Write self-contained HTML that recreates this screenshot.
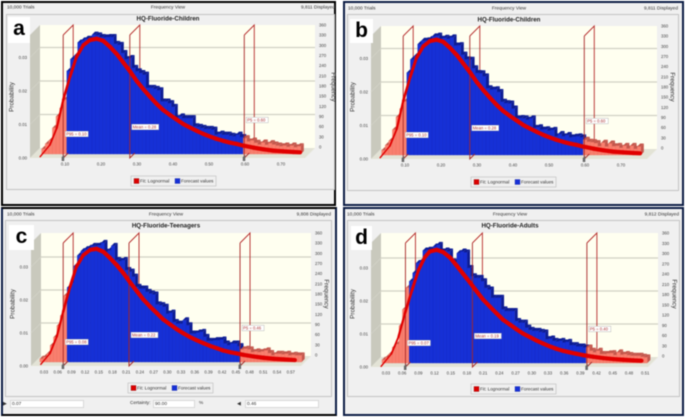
<!DOCTYPE html>
<html lang="en">
<head>
<meta charset="utf-8">
<title>HQ-Fluoride frequency views</title>
<style>
html,body{margin:0;padding:0;background:#fff}
#page{position:relative;width:685px;height:417px;overflow:hidden;background:#fff;filter:blur(.4px);font-family:"Liberation Sans",sans-serif}
.win{position:absolute;background:#f0f0f0;box-sizing:border-box}
.inner{position:absolute;border:1px solid #c4c4c4;box-sizing:border-box}
.letter{position:absolute;background:#fff;color:#000;font-weight:bold;font-size:21px;line-height:24px;text-align:center}
.inp{position:absolute;background:#fff;border:1px solid #d8d8d8;box-sizing:border-box;font-size:4.8px;line-height:7px;color:#333;padding-left:1px}
.lbl{position:absolute;font-size:4.8px;color:#333;white-space:nowrap}
svg{position:absolute;left:0;top:0}
</style>
</head>
<body>
<div id="page">
  <div class="win" style="left:1px;top:1px;width:335px;height:205px;border:2px solid #000"><div class="inner" style="left:3px;top:11px;width:329px;height:176px"></div></div>
  <div class="win" style="left:343px;top:1px;width:341px;height:205px;border:2px solid #0c1c44"><div class="inner" style="left:2px;top:11px;width:332px;height:177px"></div></div>
  <div class="win" style="left:1px;top:207px;width:336px;height:209px;border:2px solid #0c1c44;border-bottom-color:#000;border-top-color:#000"><div class="inner" style="left:2px;top:11px;width:327px;height:177px"></div></div>
  <div class="win" style="left:343px;top:207px;width:341px;height:209px;border:2px solid #0c1c44"><div class="inner" style="left:2px;top:11px;width:333px;height:177px"></div></div>

  <svg id="charts" width="685" height="417" viewBox="0 0 685 417"></svg>

  <div class="letter" style="left:8px;top:17px;width:22px;height:26px">a</div>
  <div class="letter" style="left:350px;top:19px;width:23px;height:24px">b</div>
  <div class="letter" style="left:9px;top:225px;width:25px;height:25px">c</div>
  <div class="letter" style="left:351px;top:226px;width:21px;height:24px">d</div>

  <div class="lbl" style="left:3px;top:402px">&#9654;</div>
  <div class="inp" style="left:10px;top:400px;width:74px;height:8px">0.07</div>
  <div class="lbl" style="left:130px;top:401px">Certainty:</div>
  <div class="inp" style="left:153px;top:400px;width:42px;height:8px">90.00</div>
  <div class="lbl" style="left:199px;top:401px">%</div>
  <div class="lbl" style="left:237px;top:402px">&#9664;</div>
  <div class="inp" style="left:245px;top:400px;width:74px;height:8px">0.46</div>
</div>

<script>
/* ---------- data ---------- */
const aFrequency = [15,30,40,77,111,135,160,245,280,290,329,335,340,340,352,350,345,344,345,345,325,322,298,280,283,254,244,239,234,195,195,192,188,155,155,150,139,106,111,106,106,106,82,80,77,74,74,72,57,60,57,57,54,52,57,50,47,37,40,33,28,34,27,32,28,25,23,25,21,25,20,23];
const bFrequency = [14,29,42,75,112,136,158,243,282,292,327,337,338,342,350,352,343,346,343,347,323,324,296,282,281,256,242,241,232,197,193,194,186,157,153,152,137,108,109,108,104,108,80,82,75,76,72,74,55,62,55,59,52,54,55,52,45,39,38,35,26,36,25,34,26,27,21,27,19,27,18,25];
const cFrequency = [10,15,25,50,75,110,140,200,225,240,290,322,335,341,345,351,351,353,360,333,338,351,308,305,308,278,273,258,227,222,222,212,207,204,174,172,167,146,149,121,116,116,126,111,86,86,89,91,76,64,64,66,66,68,56,51,56,56,48,38,40,38,30,32,30,32,35,27,20,25,25,23,25,20,22,20,20];
const dFrequency = [10,17,27,47,57,112,162,227,247,272,302,307,340,342,342,352,357,337,340,337,307,304,332,337,334,287,262,257,257,247,227,222,197,197,197,162,157,157,157,127,122,122,107,100,97,97,94,92,72,74,67,65,67,62,64,54,54,50,50,47,47,37,32,37,27,27,29,30,24,32,25,27,24,22,22,22,19,17];

const abCurveX = [.031,.058,.077,.095,.114,.132,.151,.169,.188,.206,.225,.244,.262,.281,.299,.318,.336,.355,.373,.392,.410,.429,.447,.466,.484,.503,.521,.540,.558,.577,.595,.623,.651,.679,.706,.734,.753];
const abCurveP = [.0004,.0039,.0089,.0173,.0243,.0302,.0337,.0352,.0356,.0350,.0332,.0310,.0285,.0258,.0230,.0205,.0183,.0161,.0143,.0128,.0115,.0101,.0091,.0081,.0072,.0064,.0057,.0051,.0046,.0042,.0037,.0031,.0026,.0022,.0020,.0018,.0017];
const cCurveX = [.023,.043,.058,.072,.087,.101,.116,.131,.145,.160,.174,.189,.204,.218,.233,.247,.262,.277,.291,.306,.320,.335,.349,.364,.379,.393,.408,.422,.437,.452,.466,.488,.510,.532,.554,.579];
const cCurveP = [.0005,.0038,.0089,.0165,.0240,.0301,.0336,.0352,.0355,.0346,.0328,.0306,.0281,.0254,.0227,.0202,.0180,.0160,.0141,.0126,.0112,.0099,.0088,.0078,.0069,.0061,.0054,.0047,.0042,.0038,.0034,.0029,.0025,.0022,.0020,.0018];
const dCurveX = [.021,.040,.053,.065,.078,.090,.102,.111,.124,.136,.149,.161,.173,.186,.198,.210,.223,.235,.247,.260,.272,.284,.297,.309,.321,.334,.346,.358,.371,.383,.395,.414,.432,.451,.469,.488,.503];
const dCurveP = [.0002,.0040,.0091,.0162,.0232,.0293,.0333,.0350,.0355,.0348,.0331,.0307,.0282,.0255,.0229,.0204,.0182,.0162,.0143,.0128,.0114,.0101,.0090,.0080,.0071,.0062,.0055,.0049,.0044,.0040,.0036,.0031,.0027,.0024,.0022,.0020,.0019];

const abTicks = [.10,.20,.30,.40,.50,.60,.70];
const cTicks = [.03,.06,.09,.12,.15,.18,.21,.24,.27,.30,.33,.36,.39,.42,.45,.48,.51,.54,.57];
const dTicks = [.03,.06,.09,.12,.15,.18,.21,.24,.27,.30,.33,.36,.39,.42,.45,.48,.51];
const probTicks = [0,.01,.02,.03];
const freqTicks = [0,30,60,90,120,150,180,210,240,270,300,330,360];

const abMarkers = [.095,.28,.598];
const cMarkers = [.072,.216,.459];
const dMarkers = [.066,.19,.402];
const abMarkerText = ['P95 = 0.10','Mean = 0.28','P5 = 0.60'];
const cMarkerText = ['P95 = 0.08','Mean = 0.22','P5 = 0.46'];
const dMarkerText = ['P95 = 0.07','Mean = 0.19','P5 = 0.40'];

/* ---------- layout of each panel ---------- */
const panels = [
 {id:'a',ox:30,fy:158,w:275,h:123,py:3350,fs:.339,t0:.10,k:360,binStart:.035,binW:.01,freq:aFrequency,cx:abCurveX,cp:abCurveP,ticks:abTicks,mk:abMarkers,mt:abMarkerText,
  trials:'10,000 Trials',view:'Frequency View',shown:'9,811 Displayed',title:'HQ-Fluoride-Children',hy:8,hl:7,hc:168,hr:335,ty:19,tc:168,px:12,pyc:97,fx:333,fyc:87,lx:131,ly:176},
 {id:'b',ox:371,fy:159,w:276,h:123,py:3350,fs:.339,t0:.10,k:360,binStart:.035,binW:.01,freq:bFrequency,cx:abCurveX,cp:abCurveP,ticks:abTicks,mk:abMarkers,mt:abMarkerText,
  trials:'10,000 Trials',view:'Frequency View',shown:'9,811 Displayed',title:'HQ-Fluoride-Children',hy:9,hl:348,hc:509,hr:678,ty:20,tc:509,px:353,pyc:97,fx:672,fyc:87,lx:471,ly:177},
 {id:'c',ox:31,fy:366,w:270,h:123,py:3300,fs:.331,t0:.03,k:457,binStart:.021,binW:.00744,freq:cFrequency,cx:cCurveX,cp:cCurveP,ticks:cTicks,mk:cMarkers,mt:cMarkerText,
  trials:'10,000 Trials',view:'Frequency View',shown:'9,808 Displayed',title:'HQ-Fluoride-Teenagers',hy:215,hl:7,hc:166,hr:331,ty:226,tc:166,px:13,pyc:304,fx:326,fyc:294,lx:128,ly:383},
 {id:'d',ox:371,fy:367,w:277,h:124,py:3300,fs:.331,t0:.03,k:540,binStart:.0226,binW:.0063,freq:dFrequency,cx:dCurveX,cp:dCurveP,ticks:dTicks,mk:dMarkers,mt:dMarkerText,
  trials:'10,000 Trials',view:'Frequency View',shown:'9,812 Displayed',title:'HQ-Fluoride-Adults',hy:215,hl:347,hc:510,hr:679,ty:226,tc:510,px:353,pyc:304,fx:674,fyc:294,lx:471,ly:384}
];
const tickOrigin = {a:65,b:405,c:44,d:386};
const NS = 'http://www.w3.org/2000/svg';
const root = document.getElementById('charts');

function mk(tag, attrs, parent){
  const el = document.createElementNS(NS, tag);
  for (const k in attrs) el.setAttribute(k, attrs[k]);
  parent.appendChild(el);
  return el;
}
function txt(str, x, y, size, anchor, fill, parent, weight){
  const el = mk('text',{x:x,y:y,'font-size':size,'text-anchor':anchor,fill:fill,'font-family':'"Liberation Sans",sans-serif','font-weight':weight||'normal','dominant-baseline':'central'},parent);
  el.textContent = str;
  return el;
}
function pts(a){return a.map(p=>p[0].toFixed(2)+','+p[1].toFixed(2)).join(' ');}

panels.forEach(function(P){
  const g = mk('g',{},root);
  
  
  const D = 10;
  const xS = v => tickOrigin[P.id] + (v - P.t0) * P.k;
  const yP = p => P.fy - p * P.py;
  const yF = (f, depth) => P.fy - depth - f * P.fs;
  const L = P.ox, R = P.ox + P.w, F = P.fy, T = P.fy - D - P.h;

  /* header */
  let t = txt(P.trials,P.hl,P.hy,4.8,'start','#333',g);
  
  
  t = txt(P.view,P.hc,P.hy,4.8,'middle','#333',g);
  
  
  t = txt(P.shown,P.hr,P.hy,4.8,'end','#333',g);
  
  
  t = txt(P.title,P.tc,P.ty,6.2,'middle','#222',g,'bold');
  
  

  /* walls */
  let w = mk('polygon',{points:pts([[L+D,T],[R+D,T],[R+D,F-D],[L+D,F-D]]),fill:'#fffff0'},g);
  
  
  w = mk('polygon',{points:pts([[L,T+D],[L+D,T],[L+D,F-D],[L,F]]),fill:'#c9c9bd'},g);
  
  
  w = mk('polygon',{points:pts([[L,F],[L+D,F-D],[R+D,F-D],[R,F]]),fill:'#e3e3d6'},g);
  
  

  /* grid + y ticks */
  probTicks.forEach(function(p){
    if (p > 0) {
      const gl = mk('polyline',{points:pts([[L,yP(p)],[L+D,yP(p)-D],[R+D,yP(p)-D]]),fill:'none',stroke:'#d0d0c4','stroke-width':1.2},g);
      
      
    }
    const tl = txt(p.toFixed(2),L-3,yP(p),4.3,'end','#444',g);
    
    
  });
  freqTicks.forEach(function(f){
    const tl = txt(String(f),R+D+4,F-D-1-f*(P.h-1)/360,4.3,'start','#444',g);
    
    
  });
  P.ticks.forEach(function(v){
    const tl = txt(v.toFixed(2),xS(v),F+6,4.3,'middle','#444',g);
    
    
  });

  /* axis titles */
  let a1 = txt('Probability',P.px,P.pyc,6.4,'middle','#333',g);
  a1.setAttribute('transform','rotate(-90 '+P.px+' '+P.pyc+')');
  
  
  let a2 = txt('Frequency',P.fx,P.fyc,6.2,'middle','#333',g);
  a2.setAttribute('transform','rotate(90 '+P.fx+' '+P.fyc+')');
  
  

  /* marker frames: back part */
  P.mk.forEach(function(m){
    const x = xS(m);
    const b = mk('polyline',{points:pts([[x,F-P.h],[x+D,T],[x+D,F-D]]),fill:'none',stroke:'#b52a2a','stroke-width':.9},g);
    
    
  });

  /* bars */
  const bw = P.binW * P.k;
  P.freq.forEach(function(f,i){
    const x = xS(P.binStart + i * P.binW);
    const mid = x + bw / 2;
    const tail = mid < xS(P.mk[0]) + 3 || mid > xS(P.mk[2]);
    const front = tail ? '#f97f6e' : '#1630d6';
    const top = tail ? '#c4574c' : '#0d1c94';
    const edge = tail ? '#e8705f' : '#1429c4';
    const y0 = F - 4, y1 = yF(f,4);
    const bar = mk('g',{},g);
    
    
    mk('polygon',{points:pts([[x,y1],[x+3,y1-3],[x+bw+3,y1-3],[x+bw,y1]]),fill:top},bar);
    mk('polygon',{points:pts([[x+bw,y1],[x+bw+3,y1-3],[x+bw+3,y0-3],[x+bw,y0]]),fill:top},bar);
    mk('rect',{x:x.toFixed(2),y:y1.toFixed(2),width:bw.toFixed(2),height:Math.max(0,y0-y1).toFixed(2),fill:front,stroke:edge,'stroke-width':.3},bar);
  });

  /* marker frames: front part */
  P.mk.forEach(function(m,i){
    const x = xS(m);
    const fr = mk('polyline',{points:pts([[x,F-P.h],[x,F],[x+5,F-5]]),fill:'none',stroke:'#a82626','stroke-width':.9},g);
    
    
    if (i !== 1) {
      const h = mk('polygon',{points:pts([[x-1.5,F-1],[x+1,F-3],[x+1,F+3],[x-1.5,F+3]]),fill:'#666'},g);
      
      
    }
  });

  /* fit curve */
  const curve = mk('g',{fill:'none',stroke:'#e00000','stroke-linecap':'round'},g);
  
  
  P.cx.forEach(function(v,i){
    if (i === 0) return;
    mk('line',{x1:xS(P.cx[i-1]).toFixed(2),y1:yP(P.cp[i-1]).toFixed(2),x2:xS(v).toFixed(2),y2:yP(P.cp[i]).toFixed(2),'stroke-width':Math.min(4.2,1+i*.4).toFixed(2)},curve);
  });

  /* marker labels */
  const offs = [24,31,38], wid = [23,27,22];
  P.mk.forEach(function(m,i){
    const x = xS(m) + 2, y = F - offs[i];
    const box = mk('g',{},g);
    
    
    mk('rect',{x:x,y:y-2.8,width:wid[i],height:5.6,fill:'#fff',stroke:'#aaa','stroke-width':.4},box);
    txt(P.mt[i],x+1,y,4.2,'start','#a33',box);
  });

  /* legend */
  const lg = mk('g',{},g);
  
  
  mk('rect',{x:P.lx,y:P.ly,width:85,height:10,fill:'#f0f0f0',stroke:'#bbb','stroke-width':.6},lg);
  const e1 = mk('g',{},lg);
  
  
  mk('rect',{x:P.lx+3,y:P.ly+2.5,width:5,height:5,fill:'#dc0000',stroke:'#700','stroke-width':.3},e1);
  txt('Fit: Lognormal',P.lx+9,P.ly+5,4.6,'start','#333',e1);
  const e2 = mk('g',{},lg);
  
  
  mk('rect',{x:P.lx+44,y:P.ly+2.5,width:5,height:5,fill:'#1630d6',stroke:'#0d1c94','stroke-width':.3},e2);
  txt('Forecast values',P.lx+50,P.ly+5,4.6,'start','#333',e2);
});
</script>
</body>
</html>
